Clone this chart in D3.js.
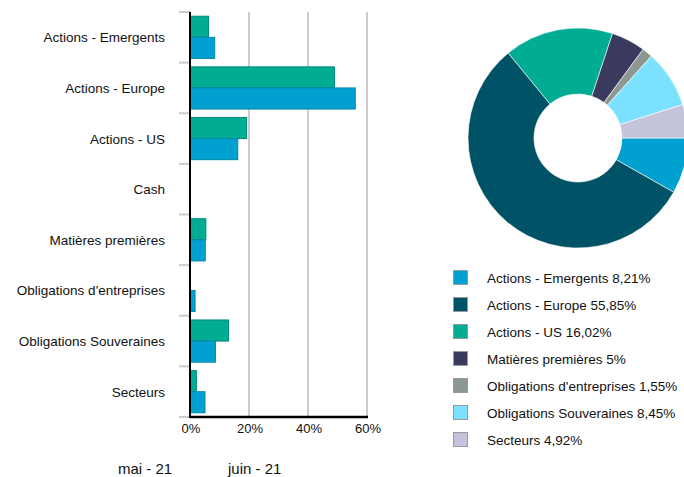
<!DOCTYPE html>
<html>
<head>
<meta charset="utf-8">
<script src="https://cdn.jsdelivr.net/npm/d3@7/dist/d3.min.js"></script>
<style>
  html, body { margin: 0; padding: 0; background: #fff; }
  svg { display: block; font-family: "Liberation Sans", Arial, sans-serif; }
</style>
</head>
<body>
<svg id="chart" width="684" height="477"></svg>
<script>
// ---- data ----
const categories = ["Actions - Emergents", "Actions - Europe", "Actions - US", "Cash",
  "Matières premières", "Obligations d'entreprises", "Obligations Souveraines", "Secteurs"];
const seriesNames = ["mai - 21", "juin - 21"];
const maiValues = [6.1, 48.8, 19.0, 0, 5.2, 0, 12.9, 2.0];
const juinValues = [8.21, 55.85, 16.02, 0, 5, 1.55, 8.45, 4.92];
const xTicks = [0, 20, 40, 60];
const pieCategories = ["Actions - Emergents", "Actions - Europe", "Actions - US",
  "Matières premières", "Obligations d'entreprises", "Obligations Souveraines", "Secteurs"];
const pieValues = [8.21, 55.85, 16.02, 5, 1.55, 8.45, 4.92];

// ---- styles ----
const barFill = { "mai - 21": "#00ad93", "juin - 21": "#00a0d0" };
const barStroke = { "mai - 21": "#00897a", "juin - 21": "#0086ad" };
const pieColors = ["#00a0d0", "#005367", "#00ad93", "#3a3a5f", "#8e9893", "#7be1ff", "#c4c3dc"];

const svg = d3.select("#chart");

// ---- bar chart ----
const x = d3.scaleLinear().domain([0, 60]).range([190, 367]);
const y = d3.scaleBand().domain(categories).range([12, 417]).padding(0);
const y1 = d3.scaleBand().domain(seriesNames).range([0, y.bandwidth()])
  .paddingInner(0).paddingOuter(0.2);

// gridlines
svg.append("g").selectAll("line").data(xTicks.filter(d => d > 0)).join("line")
  .attr("x1", d => x(d)).attr("x2", d => x(d))
  .attr("y1", 12).attr("y2", 417)
  .attr("stroke", "#cccccc").attr("stroke-width", 2);

// left category ticks (band boundaries)
const bounds = categories.map(c => y(c)).concat([y.range()[1]]);
svg.append("g").selectAll("line").data(bounds).join("line")
  .attr("x1", 179).attr("x2", 190)
  .attr("y1", d => d).attr("y2", d => d)
  .attr("stroke", "#cccccc").attr("stroke-width", 2);

// bars
const rows = categories.map((c, i) => ({ c, vals: [
  { s: seriesNames[0], v: maiValues[i] },
  { s: seriesNames[1], v: juinValues[i] }] }));

const g = svg.append("g");
rows.forEach(r => {
  r.vals.forEach(d => {
    if (d.v <= 0) return;
    g.append("rect")
      .attr("x", x(0) + 0.5)
      .attr("y", y(r.c) + y1(d.s))
      .attr("width", x(d.v) - x(0))
      .attr("height", y1.bandwidth())
      .attr("fill", barFill[d.s])
      .attr("stroke", barStroke[d.s])
      .attr("stroke-width", 1);
  });
});

// axes lines
svg.append("line").attr("x1", x(0)).attr("x2", x(0)).attr("y1", 12).attr("y2", 418)
  .attr("stroke", "#000").attr("stroke-width", 2);
svg.append("line").attr("x1", x(0)).attr("x2", x(60) + 1).attr("y1", 417).attr("y2", 417)
  .attr("stroke", "#000").attr("stroke-width", 2.5);

// x tick labels
svg.append("g").selectAll("text").data(xTicks).join("text")
  .attr("x", d => x(d) + 1).attr("y", 433)
  .attr("text-anchor", "middle")
  .attr("font-size", "13px").attr("fill", "#111")
  .text(d => d + "%");

// category labels
svg.append("g").selectAll("text").data(categories).join("text")
  .attr("x", 165).attr("y", d => y(d) + y.bandwidth() / 2 + 5)
  .attr("text-anchor", "end")
  .attr("font-size", "13.5px").attr("fill", "#111")
  .text(d => d);

// bottom series legend
const legX = [118, 228];
svg.append("g").selectAll("text").data(seriesNames).join("text")
  .attr("x", (d, i) => legX[i]).attr("y", 474)
  .attr("font-size", "15px").attr("fill", "#111")
  .text(d => d);

// ---- donut ----
const pie = d3.pie().sort(null).value(d => d)
  .startAngle(Math.PI / 2).endAngle(Math.PI / 2 + 2 * Math.PI);
const arc = d3.arc().innerRadius(44).outerRadius(110);
const pg = svg.append("g").attr("transform", "translate(578,138)");
pg.selectAll("path").data(pie(pieValues)).join("path")
  .attr("d", arc)
  .attr("fill", (d, i) => pieColors[i])
  .attr("stroke", "#ffffff").attr("stroke-width", 0.6);

// donut legend
const fmt = v => String(v).replace(".", ",") + "%";
const lg = svg.append("g");
pieCategories.forEach((c, i) => {
  const yy = 270 + i * 27;
  lg.append("rect").attr("x", 453.5).attr("y", yy + 0.5).attr("width", 14).attr("height", 14)
    .attr("fill", pieColors[i]).attr("stroke", "#9a9a9a").attr("stroke-width", 1);
  lg.append("text").attr("x", 487).attr("y", yy + 12.5)
    .attr("font-size", "13.5px").attr("fill", "#111")
    .text(c + " " + fmt(pieValues[i]));
});
</script>
</body>
</html>
